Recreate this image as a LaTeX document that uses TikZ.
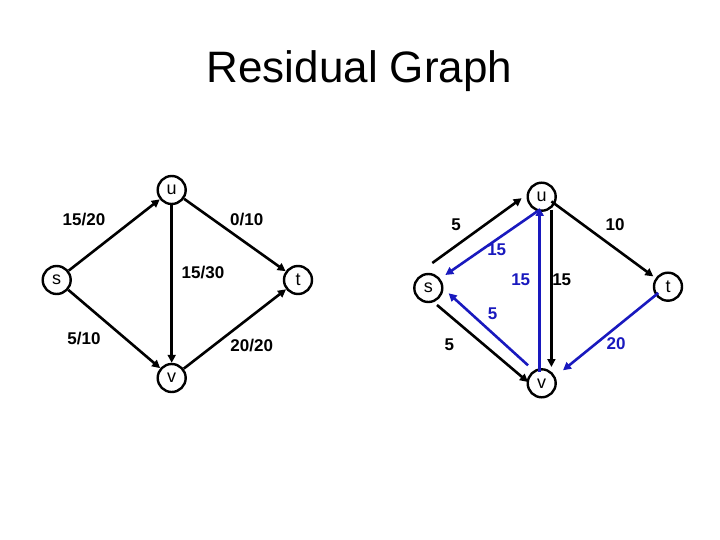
\documentclass[tikz,border=0pt]{standalone}
\usepackage{fontspec}
\setmainfont{Liberation Sans}
\usetikzlibrary{arrows.meta,calc}
\definecolor{resblue}{RGB}{25,25,190}
\begin{document}
\begin{tikzpicture}[x=1pt,y=-1pt,
  vtx/.style={circle,draw,line width=2.4pt,minimum size=28pt,inner sep=0pt,font=\fontsize{18}{20}\selectfont},
  edge/.style={line width=2.6pt,-{Triangle[length=8pt,width=8pt]}},
  bedge/.style={edge,draw=resblue},
  lbl/.style={font=\fontsize{17}{19}\selectfont\bfseries},
  blbl/.style={lbl,text=resblue}]
\useasboundingbox (0,0) rectangle (720,540);
\node[anchor=base,font=\fontsize{44}{50}\selectfont] (title) at (359.5,83) {Residual Graph};
% left graph
\node[vtx] (u1) at (171.7,190) {u};
\node[vtx] (s1) at (56.7,280) {s};
\node[vtx] (t1) at (298,280) {t};
\node[vtx] (v1) at (171.7,378) {v};
\draw[edge] (s1) -- (u1);
\draw[edge] (u1) -- (t1);
\draw[edge] (u1) -- (v1);
\draw[edge] (s1) -- (v1);
\draw[edge] (v1) -- (t1);
\node[lbl] (l1) at (84,220) {15/20};
\node[lbl] (l2) at (246.7,220) {0/10};
\node[lbl] (l3) at (203,272.5) {15/30};
\node[lbl] (l4) at (84,339) {5/10};
\node[lbl] (l5) at (251.7,346) {20/20};
% right graph
\node[vtx] (u2) at (541.7,196.7) {u};
\node[vtx] (s2) at (428.3,288) {s};
\node[vtx] (t2) at (668,286.7) {t};
\node[vtx] (v2) at (541.7,383.3) {v};
\coordinate (a1) at ($(s2)+(4,-25)$);
\coordinate (a2) at ($(u2)+(-20,1.5)$);
\draw[edge] (a1) -- (a2);
\coordinate (b1) at ($(u2)+(-2,13)$);
\coordinate (b2) at ($(s2)+(17,-13)$);
\draw[bedge] (b1) -- (b2);
\coordinate (c1) at ($(u2)+(9.7,4.7)$);
\coordinate (c2) at ($(t2)+(-14.7,-10.3)$);
\draw[edge] (c1) -- (c2);
\coordinate (d1) at ($(u2)+(9.7,13)$);
\coordinate (d2) at ($(v2)+(9.7,-16.3)$);
\draw[edge] (d1) -- (d2);
\coordinate (e1) at ($(v2)+(-2,-11.5)$);
\coordinate (e2) at ($(u2)+(-2,11.3)$);
\draw[bedge] (e1) -- (e2);
\coordinate (f1) at ($(s2)+(8.7,17)$);
\coordinate (f2) at ($(v2)+(-13.7,-1.3)$);
\draw[edge] (f1) -- (f2);
\coordinate (g1) at ($(v2)+(-13.7,-18)$);
\coordinate (g2) at ($(s2)+(20.3,5.3)$);
\draw[bedge] (g1) -- (g2);
\coordinate (h1) at ($(t2)+(-9.7,6.3)$);
\coordinate (h2) at ($(v2)+(21.3,-13)$);
\draw[bedge] (h1) -- (h2);
\node[lbl] (r1) at (456,225) {5};
\node[lbl] (r2) at (615,225) {10};
\node[blbl] (r3) at (496.7,250) {15};
\node[blbl] (r4) at (520.7,279.3) {15};
\node[lbl] (r5) at (561.7,279.3) {15};
\node[blbl] (r6) at (492.7,314) {5};
\node[lbl] (r7) at (449.3,345) {5};
\node[blbl] (r8) at (616,344) {20};
\end{tikzpicture}
\end{document}
